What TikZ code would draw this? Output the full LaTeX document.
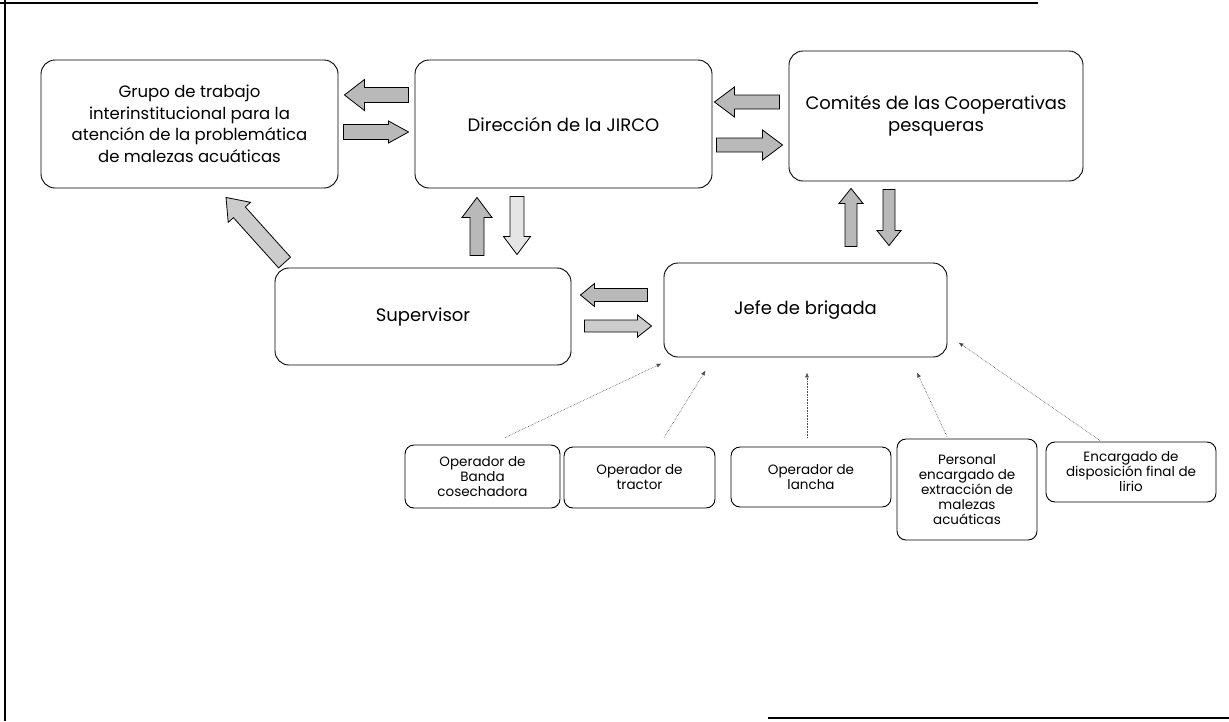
\documentclass[tikz,border=0pt]{standalone}
\usepackage{fontspec}
\setmainfont{Poppins}
\usetikzlibrary{calc,arrows.meta}
\tikzset{
  box/.style={draw, rounded corners=14pt, line width=0.9pt, align=center, inner sep=2pt,
    font=\fontsize{18}{22}\selectfont},
  smallbox/.style={box, rounded corners=9pt, font=\fontsize{13.5}{15}\selectfont},
  barrow/.style n args={3}{draw=black, line width=0.8pt, fill=gray!55,
    to path={let \p1=(\tikztostart), \p2=(\tikztotarget), \p3=($(\p2)!#3!(\p1)$) in
      ($(\p1)!#1!90:(\p2)$) -- ($(\p3)!#1!90:(\p2)$) -- ($(\p3)!#2!90:(\p2)$) -- (\p2)
      -- ($(\p3)!#2!-90:(\p2)$) -- ($(\p3)!#1!-90:(\p2)$) -- ($(\p1)!#1!-90:(\p2)$) -- cycle}},
  dotarrow/.style={densely dotted, line width=0.6pt, draw=gray!60!black,
    -{Latex[length=5pt,width=4pt]}}
}
\begin{document}
\begin{tikzpicture}[x=1pt,y=-1pt]
  \useasboundingbox (0,0) rectangle (1229,721);
  \draw[line width=1.2pt] (0,3) -- (1038,3);
  \draw[line width=1.2pt] (5,0) -- (5,721);
  \draw[line width=1.2pt] (768,718) -- (1229,718);
  \node[box, minimum width=297pt, minimum height=128pt, font=\fontsize{16.5}{21.5}\selectfont] (grp) at (189.5,124)
    {Grupo de trabajo\\interinstitucional para la\\atención de la problemática\\de malezas acuáticas};
  \node[box, minimum width=297pt, minimum height=128pt] (dir) at (563.5,124) {Dirección de la JIRCO};
  \node[box, minimum width=294pt, minimum height=130pt] (com) at (936,116)
    {Comités de las Cooperativas\\pesqueras};
  \node[box, minimum width=296pt, minimum height=97pt] (sup) at (423,316.5) {Supervisor};
  \node[box, minimum width=283pt, minimum height=94pt] (jefe) at (805.5,310) {Jefe de brigada};
  \node[smallbox, minimum width=155pt, minimum height=63pt] (banda) at (482.5,476.5)
    {Operador de\\Banda\\cosechadora};
  \node[smallbox, minimum width=151pt, minimum height=61pt] (tractor) at (639.5,477.5)
    {Operador de\\tractor};
  \node[smallbox, minimum width=160pt, minimum height=60pt] (lancha) at (811,477)
    {Operador de\\lancha};
  \node[smallbox, minimum width=140pt, minimum height=101pt] (personal) at (967,489.5)
    {Personal\\encargado de\\extracción de\\malezas\\acuáticas};
  \node[smallbox, minimum width=170pt, minimum height=60pt] (encargado) at (1131,472)
    {Encargado de\\disposición final de\\lirio};
  \draw[barrow={7.5pt}{15.5pt}{20pt}] ([shift={(-6,-29)}]dir.west) to ([shift={(6,-29)}]grp.east);
  \draw[barrow={7.5pt}{11pt}{20pt}] ([shift={(5,8)}]grp.east) to ([shift={(-6,8)}]dir.west);
  \draw[barrow={7pt}{15pt}{20pt}] ([shift={(-9,-14)}]com.west) to ([shift={(2,-22)}]dir.east);
  \draw[barrow={7pt}{15pt}{20pt}] ([shift={(4,21)}]dir.east) to ([shift={(-6,29)}]com.west);
  \draw[barrow={7pt}{15pt}{20pt}] ([shift={(54,-12)}]sup.north) to ([shift={(-86.5,9)}]dir.south);
  \draw[barrow={7pt}{13.5pt}{18pt}, fill=gray!20] ([shift={(-46.5,8)}]dir.south) to ([shift={(94,-13)}]sup.north);
  \draw[barrow={6pt}{12pt}{15pt}] ([shift={(45.5,-16)}]jefe.north) to ([shift={(-85,7)}]com.south);
  \draw[barrow={6pt}{12pt}{15pt}] ([shift={(-47,8)}]com.south) to ([shift={(83.5,-17)}]jefe.north);
  \draw[barrow={6.5pt}{11.5pt}{14pt}] ([shift={(-16,-15)}]jefe.west) to ([shift={(9,-21.5)}]sup.east);
  \draw[barrow={6pt}{11pt}{14pt}, fill=gray!40] ([shift={(13,9.5)}]sup.east) to ([shift={(-12,16)}]jefe.west);
  \draw[barrow={8pt}{15pt}{20pt}, fill=gray!40] ([shift={(10,-5)}]sup.north west) to ([shift={(36.5,9)}]grp.south);
  \draw[dotarrow] ([shift={(22.5,-7)}]banda.north) -- ([shift={(-2,6)}]jefe.south west);
  \draw[dotarrow] ([shift={(24.5,-9)}]tractor.north) -- ([shift={(42,13)}]jefe.south west);
  \draw[dotarrow] ([shift={(-4,-9)}]lancha.north) -- ([shift={(1.5,15)}]jefe.south);
  \draw[dotarrow] ([shift={(-20,-2)}]personal.north) -- ([shift={(111.5,15)}]jefe.south);
  \draw[dotarrow] ([shift={(-31,-1)}]encargado.north) -- ([shift={(11,-15)}]jefe.south east);
\end{tikzpicture}
\end{document}
